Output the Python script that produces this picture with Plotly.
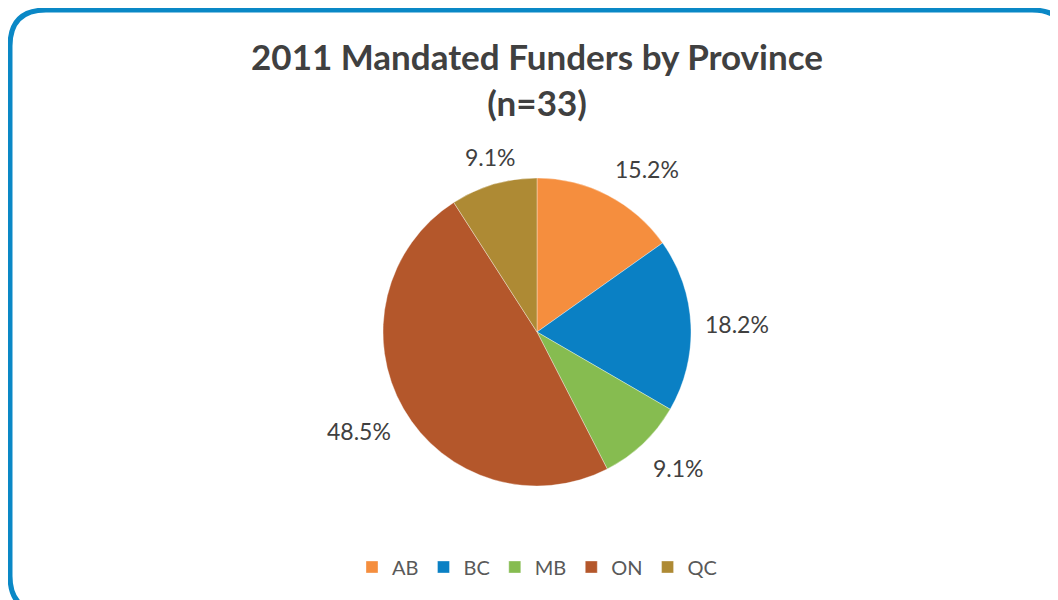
import math
import plotly.graph_objects as go

provinces = ["AB", "BC", "MB", "ON", "QC"]
shares = [15.2, 18.2, 9.1, 48.5, 9.1]
colors = ["#F58E3E", "#0A80C4", "#86BC50", "#B4572B", "#AE8A34"]
label_texts = ["15.2%", "18.2%", "9.1%", "48.5%", "9.1%"]

# browser body has an 8px margin: size the figure so it fills the window
OFF = 8
W, H = 1058 - OFF, 600 - OFF
cx, cy, R = 537, 332, 154


def fx(x):
    return (x - OFF) / W


def fy(y):
    return 1 - (y - OFF) / H


fig = go.Figure(go.Pie(
    labels=provinces, values=shares, sort=False, direction="clockwise", rotation=0,
    marker=dict(colors=colors, line=dict(color="rgba(255,255,255,0.35)", width=1)),
    textinfo="none", hoverinfo="label+percent",
    domain=dict(x=[fx(cx - R), fx(cx + R)], y=[fy(cy + R), fy(cy - R)]),
))

# data labels placed around the pie from cumulative angles
total = sum(shares)
cum = 0
annotations = []
for v, t in zip(shares, label_texts):
    mid = (cum + v / 2) / total * 2 * math.pi
    cum += v
    sx, cy_ = math.sin(mid), math.cos(mid)
    r = R + 12
    px = cx + r * sx
    py = cy - r * cy_
    xa = "left" if sx > 0.3 else ("right" if sx < -0.3 else "center")
    ya = "bottom" if cy_ > 0.3 else ("top" if cy_ < -0.3 else "middle")
    annotations.append(dict(x=fx(px), y=fy(py), xref="paper", yref="paper",
                            text=t, showarrow=False, xanchor=xa, yanchor=ya,
                            font=dict(family="Lato, Open Sans, sans-serif", size=23, color="#404040")))

# rounded border
x0, y0, x1, y1, rr = 10, 10, 1068, 612, 36


def P(x, y):
    return f"{fx(x):.5f},{fy(y):.5f}"


path = (f"M {P(x0 + rr, y0)} L {P(x1 - rr, y0)} Q {P(x1, y0)} {P(x1, y0 + rr)} "
        f"L {P(x1, y1 - rr)} Q {P(x1, y1)} {P(x1 - rr, y1)} L {P(x0 + rr, y1)} "
        f"Q {P(x0, y1)} {P(x0, y1 - rr)} L {P(x0, y0 + rr)} Q {P(x0, y0)} {P(x0 + rr, y0)} Z")

fig.update_layout(
    width=W, height=H,
    margin=dict(l=0, r=0, t=0, b=0),
    paper_bgcolor="white", plot_bgcolor="white",
    title=dict(text="<b>2011 Mandated Funders by Province<br>(n=33)</b>",
               x=fx(cx), xanchor="center", y=fy(70), yanchor="top",
               font=dict(family="Lato, Open Sans, sans-serif", size=35, color="#404040")),
    legend=dict(orientation="h", x=fx(cx), xanchor="center", y=fy(567), yanchor="middle",
                font=dict(family="Lato, Open Sans, sans-serif", size=20, color="#595959"),
                itemwidth=30, traceorder="normal"),
    annotations=annotations,
    shapes=[dict(type="path", path=path, xref="paper", yref="paper",
                 line=dict(color="#0A88C6", width=5), fillcolor="rgba(0,0,0,0)")],
)

fig.write_html("out.html")
